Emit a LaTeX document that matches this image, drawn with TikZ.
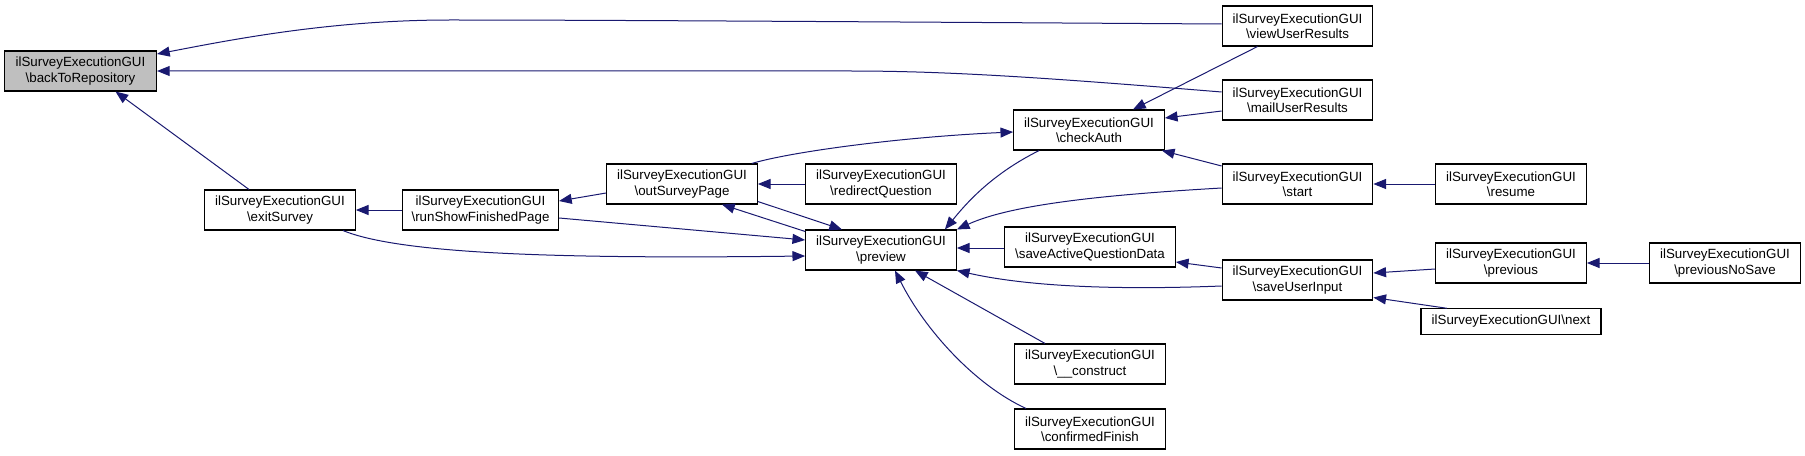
\documentclass[tikz,border=0pt]{standalone}
\usepackage{fontspec}
\setmainfont{Liberation Sans}
\usetikzlibrary{arrows.meta,calc}
\definecolor{edgeblue}{HTML}{191970}
\definecolor{hl}{HTML}{BFBFBF}
\tikzset{
  fn/.style={draw=black, line width=0.8pt, fill=white, rectangle, minimum width=113pt,
    minimum height=30pt, inner sep=0pt, align=center,
    font=\fontsize{10pt}{11.5pt}\selectfont},
  edge/.style={draw=edgeblue, line width=0.75pt, -{Triangle[length=9.5pt,width=7.5pt]}}
}
\begin{document}
\begin{tikzpicture}[x=0.75pt,y=-0.75pt]
\useasboundingbox (0,0) rectangle (1805,456);
\node[fn, fill=hl, minimum width=114pt] (back) at (80.5,71) {ilSurveyExecutionGUI\\\textbackslash backToRepository};
\node[fn] (view) at (1297.5,26) {ilSurveyExecutionGUI\\\textbackslash viewUserResults};
\node[fn] (mail) at (1297.5,100) {ilSurveyExecutionGUI\\\textbackslash mailUserResults};
\node[fn] (checkAuth) at (1089,130) {ilSurveyExecutionGUI\\\textbackslash checkAuth};
\node[fn] (outSurvey) at (682,184) {ilSurveyExecutionGUI\\\textbackslash outSurveyPage};
\node[fn] (redirect) at (881,184) {ilSurveyExecutionGUI\\\textbackslash redirectQuestion};
\node[fn] (exit) at (280,210) {ilSurveyExecutionGUI\\\textbackslash exitSurvey};
\node[fn, minimum width=117pt] (runShow) at (480.5,210) {ilSurveyExecutionGUI\\\textbackslash runShowFinishedPage};
\node[fn] (start) at (1297.5,184) {ilSurveyExecutionGUI\\\textbackslash start};
\node[fn] (resume) at (1511,184) {ilSurveyExecutionGUI\\\textbackslash resume};
\node[fn] (preview) at (881,250) {ilSurveyExecutionGUI\\\textbackslash preview};
\node[fn, minimum width=128pt] (saveActive) at (1090,247) {ilSurveyExecutionGUI\\\textbackslash saveActiveQuestionData};
\node[fn] (saveUser) at (1297.5,280) {ilSurveyExecutionGUI\\\textbackslash saveUserInput};
\node[fn] (previous) at (1511,263) {ilSurveyExecutionGUI\\\textbackslash previous};
\node[fn] (prevNoSave) at (1725,263) {ilSurveyExecutionGUI\\\textbackslash previousNoSave};
\node[fn, minimum width=135pt, minimum height=19pt] (next) at (1511,321.5) {ilSurveyExecutionGUI\textbackslash next};
\node[fn] (construct) at (1090,364) {ilSurveyExecutionGUI\\\textbackslash \_\_construct};
\node[fn] (confirmed) at (1090,429) {ilSurveyExecutionGUI\\\textbackslash confirmedFinish};

% edges
\draw[edge] ($(view.west)+(0,-2)$) .. controls (900,22) and (600,20) .. (450,20) .. controls (330,20) and (230,40) .. ($(back.east)+(0,-17)$);
\draw[edge] ($(mail.west)+(0,-8)$) .. controls (1050,78) and (950,71) .. (850,71) -- (back.east);
\draw[edge] ($(exit.north)+(-31,0)$) -- ($(back.south)+(35,0)$);
\draw[edge] (runShow.west) -- (exit.east);
\draw[edge] ($(outSurvey.west)+(0,9)$) -- ($(runShow.east)+(0,-9)$);
\draw[edge] ($(outSurvey.north east)+(-6,0)$) .. controls (790,152) and (900,137) .. ($(checkAuth.west)+(0,2)$);
\draw[edge] (redirect.west) -- (outSurvey.east);
\draw[edge] ($(outSurvey.south east)+(0,-3)$) -- ($(preview.north)+(-39,0)$);
\draw[edge] ($(preview.north west)+(0,2)$) -- ($(outSurvey.south)+(40,0)$);
\draw[edge] ($(runShow.east)+(0,8)$) -- ($(preview.west)+(0,-10)$);
\draw[edge] ($(exit.south)+(63,0)$) .. controls (400,254) and (560,259) .. ($(preview.west)+(0,6)$);
\draw[edge] ($(checkAuth.south west)+(26,0)$) .. controls (990,175) and (965,205) .. ($(preview.north east)+(-12,0)$);
\draw[edge] ($(start.west)+(0,4)$) .. controls (1100,195) and (1010,205) .. (preview.north east);
\draw[edge] ($(start.west)+(0,-18)$) -- ($(checkAuth.south east)+(-3,0)$);
\draw[edge] ($(view.south)+(-40,0)$) -- ($(checkAuth.north)+(44,0)$);
\draw[edge] ($(mail.west)+(0,11)$) -- ($(checkAuth.east)+(0,-12)$);
\draw[edge] (resume.west) -- (start.east);
\draw[edge] ($(saveActive.west)+(0,1)$) -- ($(preview.east)+(0,-2)$);
\draw[edge] ($(saveUser.west)+(0,-12)$) -- ($(saveActive.east)+(0,15)$);
\draw[edge] ($(saveUser.west)+(0,6)$) .. controls (1120,290) and (1030,287) .. (preview.south east);
\draw[edge] ($(previous.west)+(0,6)$) -- ($(saveUser.east)+(0,-7)$);
\draw[edge] (prevNoSave.west) -- (previous.east);
\draw[edge] ($(next.north)+(-64,0)$) -- ($(saveUser.south east)+(0,-3)$);
\draw[edge] ($(construct.north)+(-45,0)$) -- ($(preview.south)+(34,0)$);
\draw[edge] ($(confirmed.north)+(-64,0)$) .. controls (975,385) and (925,330) .. ($(preview.south)+(14,0)$);
\end{tikzpicture}
\end{document}
